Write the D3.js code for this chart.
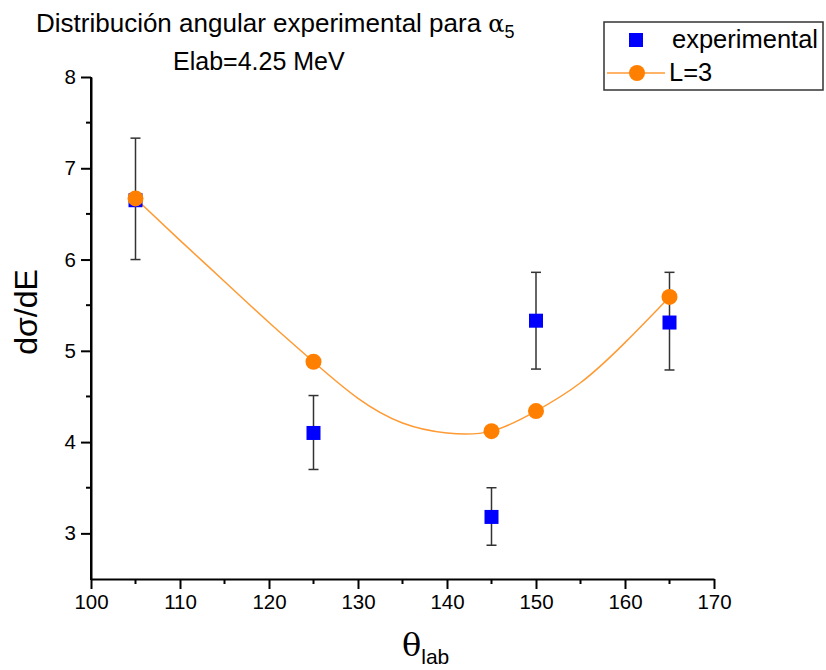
<!DOCTYPE html>
<html>
<head>
  <meta charset="utf-8" />
  <title>Distribucion angular</title>
  <script src="https://d3js.org/d3.v7.min.js"></script>
  <style>
    body { margin: 0; background: #fff; }
    svg { font-family: "Liberation Sans", Arial, sans-serif; }
  </style>
</head>
<body>
<svg id="chart" width="826" height="670"></svg>
<script>
  // data
  var angles = [105, 125, 145, 150, 165];
  var expValues = [6.65, 4.10, 3.18, 5.33, 5.31];
  var errLow = [6.00, 3.70, 2.87, 4.80, 4.79];
  var errHigh = [7.33, 4.51, 3.50, 5.86, 5.86];
  var fitValues = [6.67, 4.88, 4.12, 4.34, 5.59];
  // the L=3 curve itself, read every 5 degrees along the line
  var curveAngles = [105, 110, 115, 120, 125, 130, 135, 140, 145, 150, 155, 160, 165];
  var curveValues = [6.67, 6.21, 5.76, 5.31, 4.88, 4.48, 4.21, 4.10, 4.12, 4.34, 4.65, 5.09, 5.59];
  var xTicks = [100, 110, 120, 130, 140, 150, 160, 170];
  var yTicks = [3, 4, 5, 6, 7, 8];

  var svg = d3.select("#chart");
  // plot box (named so it doesn't clash with window.top)
  var pLeft = 91, pRight = 714, pTop = 77, pBottom = 579;

  var x = d3.scaleLinear().domain([100, 170]).range([pLeft, pRight]);
  var y = d3.scaleLinear().domain([2.5, 8]).range([pBottom, pTop]);

  // minor ticks
  var g = svg.append("g");
  g.selectAll(".xminor").data(d3.range(105, 170, 10)).enter().append("line")
    .attr("x1", function (d) { return x(d); }).attr("x2", function (d) { return x(d); })
    .attr("y1", pBottom).attr("y2", pBottom + 5)
    .attr("stroke", "#000").attr("stroke-width", 2);
  g.selectAll(".yminor").data([3.5, 4.5, 5.5, 6.5, 7.5]).enter().append("line")
    .attr("x1", pLeft).attr("x2", pLeft - 5)
    .attr("y1", function (d) { return y(d); }).attr("y2", function (d) { return y(d); })
    .attr("stroke", "#000").attr("stroke-width", 2);

  // axes
  var xAxis = svg.append("g")
    .attr("transform", "translate(0," + pBottom + ")")
    .call(d3.axisBottom(x).tickValues(xTicks).tickSize(10).tickPadding(5).tickSizeOuter(0));
  var yAxis = svg.append("g")
    .attr("transform", "translate(" + pLeft + ",0)")
    .call(d3.axisLeft(y).tickValues(yTicks).tickFormat(d3.format("d")).tickSize(10).tickPadding(5).tickSizeOuter(0));
  [xAxis, yAxis].forEach(function (a) {
    a.select(".domain").attr("stroke-width", 2);
    a.selectAll(".tick line").attr("stroke-width", 2);
    a.selectAll("text").attr("font-size", 20.5).attr("font-family", "Liberation Sans, Arial, sans-serif").attr("fill", "#000");
  });
  // y axis line extends down to the x axis
  svg.append("line").attr("x1", pLeft).attr("x2", pLeft).attr("y1", pTop).attr("y2", pBottom + 1)
    .attr("stroke", "#000").attr("stroke-width", 2);

  // fit curve
  var curveData = curveAngles.map(function (a, i) { return [a, curveValues[i]]; });
  svg.append("path")
    .datum(curveData)
    .attr("fill", "none")
    .attr("stroke", "#ff9a33")
    .attr("stroke-width", 1.5)
    .attr("d", d3.line().x(function (d) { return x(d[0]); }).y(function (d) { return y(d[1]); }).curve(d3.curveNatural));

  // error bars
  var eb = svg.append("g").attr("stroke", "#333").attr("stroke-width", 1.5);
  angles.forEach(function (a, i) {
    eb.append("line").attr("x1", x(a)).attr("x2", x(a)).attr("y1", y(errLow[i])).attr("y2", y(errHigh[i]));
    eb.append("line").attr("x1", x(a) - 5).attr("x2", x(a) + 5).attr("y1", y(errLow[i])).attr("y2", y(errLow[i]));
    eb.append("line").attr("x1", x(a) - 5).attr("x2", x(a) + 5).attr("y1", y(errHigh[i])).attr("y2", y(errHigh[i]));
  });

  // experimental squares
  svg.selectAll(".sq").data(angles).enter().append("rect")
    .attr("x", function (d) { return x(d) - 7; })
    .attr("y", function (d, i) { return y(expValues[i]) - 7; })
    .attr("width", 14).attr("height", 14)
    .attr("fill", "#0000ff");

  // fit circles
  svg.selectAll(".dot").data(angles).enter().append("circle")
    .attr("cx", function (d) { return x(d); })
    .attr("cy", function (d, i) { return y(fitValues[i]); })
    .attr("r", 8)
    .attr("fill", "#ff8000");

  // titles
  var t1 = svg.append("text").attr("x", 36).attr("y", 32).attr("font-size", 26).attr("fill", "#000");
  t1.append("tspan").text("Distribución angular experimental para ");
  t1.append("tspan").attr("font-family", "DejaVu Serif, serif").attr("font-size", 24).text("α");
  t1.append("tspan").attr("dy", 6).attr("font-size", 18).text("5");
  svg.append("text").attr("x", 173).attr("y", 70).attr("font-size", 25).attr("fill", "#000").text("Elab=4.25 MeV");

  // axis titles
  svg.append("text")
    .attr("transform", "translate(37,312) rotate(-90)")
    .attr("text-anchor", "middle").attr("font-size", 32).attr("fill", "#000")
    .text("dσ/dE");
  var xl = svg.append("text").attr("x", 402).attr("y", 656).attr("font-size", 32).attr("fill", "#000");
  xl.append("tspan").attr("font-family", "DejaVu Serif, serif").text("θ");
  xl.append("tspan").attr("dy", 8).attr("font-size", 21).text("lab");

  // legend
  var lg = svg.append("g");
  lg.append("rect").attr("x", 604).attr("y", 22).attr("width", 219).attr("height", 68)
    .attr("fill", "#fff").attr("stroke", "#333").attr("stroke-width", 1.5);
  lg.append("rect").attr("x", 629).attr("y", 33).attr("width", 14).attr("height", 14).attr("fill", "#0000ff");
  lg.append("text").attr("x", 672).attr("y", 48).attr("font-size", 25.5).attr("fill", "#000").text("experimental");
  lg.append("line").attr("x1", 607).attr("x2", 665).attr("y1", 73).attr("y2", 73)
    .attr("stroke", "#ff9a33").attr("stroke-width", 1.5);
  lg.append("circle").attr("cx", 637).attr("cy", 73).attr("r", 8).attr("fill", "#ff8000");
  lg.append("text").attr("x", 669).attr("y", 81).attr("font-size", 25.5).attr("fill", "#000").text("L=3");
</script>
</body>
</html>
